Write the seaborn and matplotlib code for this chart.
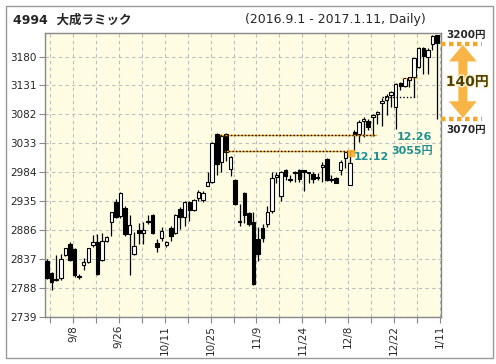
import matplotlib
matplotlib.use("Agg")
import matplotlib.pyplot as plt
import matplotlib.patheffects as pe
from matplotlib.patches import FancyArrowPatch, Rectangle
import numpy as np
import pandas as pd
import seaborn as sns

# trading days 2016-09-01 .. 2017-01-11 (TSE holidays removed)
holidays = ["2016-09-19", "2016-09-22", "2016-10-10", "2016-11-03", "2016-11-23",
            "2016-12-23", "2017-01-02", "2017-01-03", "2017-01-09"]
dates = [d for d in pd.bdate_range("2016-09-01", "2017-01-11")
         if d.strftime("%Y-%m-%d") not in holidays]

opens = [2834, 2813, 2802, 2804, 2844, 2863, 2854, 2808, 2827, 2832,
         2861, 2865, 2835, 2868, 2899, 2934, 2909, 2924, 2880, 2845,
         2886, 2881, 2902, 2912, 2864, 2873, 2861, 2890, 2881, 2921,
         2908, 2934, 2920, 2941, 2937, 2961, 2967, 3049, 3001, 3049,
         2990, 2971, 2902, 2948, 2915, 2900, 2871, 2889, 2896, 2918,
         2976, 2944, 2987, 2972, 2982, 2988, 2987, 2984, 2981, 2975,
         2992, 3006, 2972, 2974, 2988, 3008, 2963, 3053, 3049, 3071,
         3071, 3077, 3082, 3102, 3106, 3115, 3095, 3135, 3130, 3140,
         3145, 3163, 3194, 3179, 3201, 3216]
highs = [2836, 2815, 2843, 2845, 2856, 2865, 2855, 2812, 2839, 2856,
         2878, 2880, 2881, 2876, 2917, 2938, 2950, 2926, 2912, 2882,
         2898, 2900, 2912, 2913, 2871, 2891, 2868, 2892, 2913, 2925,
         2936, 2936, 2938, 2954, 2952, 2984, 3035, 3050, 3047, 3050,
         3011, 2972, 2930, 2950, 2917, 2916, 2891, 2897, 2926, 2985,
         2984, 2986, 2989, 2980, 2986, 2990, 2988, 2985, 2984, 2982,
         3002, 3008, 2980, 2976, 3005, 3020, 3020, 3055, 3072, 3077,
         3074, 3083, 3088, 3110, 3116, 3122, 3136, 3137, 3144, 3146,
         3178, 3196, 3196, 3194, 3216, 3217]
lows = [2803, 2784, 2800, 2802, 2842, 2834, 2806, 2803, 2818, 2830,
        2858, 2810, 2834, 2866, 2875, 2906, 2907, 2876, 2809, 2844,
        2862, 2862, 2897, 2880, 2848, 2868, 2858, 2868, 2880, 2888,
        2893, 2901, 2919, 2935, 2934, 2960, 2966, 2980, 2984, 3003,
        2978, 2929, 2893, 2898, 2893, 2792, 2834, 2866, 2891, 2915,
        2965, 2935, 2970, 2967, 2968, 2968, 2952, 2966, 2966, 2970,
        2968, 2969, 2968, 2966, 2980, 2991, 2962, 3017, 3036, 3044,
        3056, 3045, 3066, 3062, 3081, 3095, 3057, 3123, 3128, 3129,
        3112, 3160, 3151, 3150, 3191, 3075]
closes = [2805, 2797, 2801, 2837, 2855, 2835, 2810, 2806, 2832, 2855,
          2865, 2811, 2868, 2874, 2916, 2908, 2949, 2880, 2895, 2859,
          2881, 2886, 2899, 2881, 2857, 2885, 2865, 2876, 2912, 2908,
          2934, 2920, 2937, 2951, 2948, 2967, 3034, 2998, 3045, 3018,
          3009, 2930, 2900, 2911, 2897, 2794, 2845, 2873, 2916, 2974,
          2980, 2985, 2977, 2971, 2985, 2973, 2985, 2982, 2973, 2974,
          2996, 2970, 2971, 2966, 3002, 3019, 3000, 3049, 3069, 3075,
          3060, 3081, 3086, 3105, 3114, 3120, 3134, 3130, 3143, 3145,
          3177, 3194, 3181, 3192, 3215, 3203]

yticks = [2739, 2788, 2837, 2886, 2935, 2984, 3033, 3082, 3131, 3180]
upper_line = 3046.5   # dotted resistance lines
lower_line = 3020
range_top = 3202
range_bottom = 3074

df = pd.DataFrame({"date": dates, "open": opens, "high": highs,
                   "low": lows, "close": closes})
df["i"] = np.arange(len(df))
df["up"] = df["close"] >= df["open"]
df["bottom"] = df[["open", "close"]].min(axis=1)
df["height"] = (df["close"] - df["open"]).abs().clip(lower=1.5)

sns.set_style("white")
plt.rcParams["font.family"] = ["DejaVu Sans", "Noto Sans CJK JP"]

W, H = 496, 364
fig = plt.figure(figsize=(W / 100, H / 100), dpi=100)
L, R, T, B = 45, 440.7, 33.3, 316.7
ax = fig.add_axes([L / W, 1 - B / H, (R - L) / W, (B - T) / H])
ax.set_facecolor("#fefde4")

# wicks and bodies
ax.vlines(df["i"], df["low"], df["high"], color="black", lw=0.9, zorder=3)
ax.bar(df["i"], df["height"], bottom=df["bottom"], width=0.75,
       color=np.where(df["up"], "white", "black"), edgecolor="black",
       linewidth=0.8, zorder=4)

ax.set_xlim(-0.44, 85.8)
ax.set_ylim(2739, 3219.5)

# grid every 5 trading days, labels every 10
xt = [0.65 + 5 * k for k in range(18)]
ax.set_xticks(xt)
ax.set_xticklabels(["" if k % 2 == 0 else
                    f"{dates[5 * k].month}/{dates[5 * k].day}" for k in range(18)],
                   rotation=90)
ax.set_yticks(yticks)
ax.grid(True, color="#bdbdbd", ls=(0, (3, 3)), lw=0.8, zorder=0)
ax.tick_params(axis="both", labelsize=7.5, length=4, width=0.8, color="#888888",
               pad=2, direction="out", bottom=True, left=True)
for s in ax.spines.values():
    s.set_color("#888888")
    s.set_linewidth(1)

# dotted support / resistance lines
for y, x0, x1 in [(upper_line, 37.7, 71.7), (lower_line, 38.8, 66.5)]:
    ax.plot([x0, x1], [y, y], color="#f0a000", lw=1, zorder=5)
    ax.plot([x0, x1], [y, y], color="black", lw=1, ls=(0, (1, 1.5)), zorder=5)
ax.plot([73, 80.6], [3112, 3112], color="black", lw=1, ls=(0, (1, 1.5)), zorder=5)
ax.plot([77.4, 81.3], [3144, 3144], color="#f0a000", lw=1, ls=(0, (1, 1.5)), zorder=5)
ax.plot([66.3], [3016], marker="s", ms=4.5, color="#f5b030", alpha=0.85, zorder=6)

teal = "#1f8f91"
ax.text(66.8, 3009, "12.12", color=teal, fontsize=8, fontweight="bold",
        ha="left", va="center", zorder=7)
ax.text(76.1, 3044.5, "12.26", color=teal, fontsize=8, fontweight="bold",
        ha="left", va="center", zorder=7)
ax.text(75.0, 3020, "3055円", color=teal, fontsize=8, fontweight="bold",
        ha="left", va="center", zorder=7)

# range marker on the right, outside the plot
tr = ax.get_yaxis_transform()
orange = "#f5a623"
for y in [range_top, range_bottom]:
    ax.plot([1.0, 1.104], [y, y], transform=tr, color=orange, lw=3.2,
            ls=(0, (1, 0.8)), clip_on=False, zorder=6)
mid = (range_top + range_bottom) / 2
for end in [range_top - 2, range_bottom + 2]:
    ax.add_patch(FancyArrowPatch(
        (1.056, mid), (1.056, end), transform=tr,
        arrowstyle="simple,head_length=12,head_width=20,tail_width=6.5",
        mutation_scale=1, lw=0, color="#f8b545", clip_on=False, zorder=5,
        shrinkA=0, shrinkB=0))
ax.text(1.013, 3216.6, "3200円", transform=tr, fontsize=7.5, fontweight="bold",
        ha="left", va="center", clip_on=False)
ax.text(1.013, 3055.6, "3070円", transform=tr, fontsize=7.5, fontweight="bold",
        ha="left", va="center", clip_on=False)
ax.text(1.013, 3137, "140円", transform=tr, fontsize=10, fontweight="bold",
        color="#4a4000", ha="left", va="center", clip_on=False, zorder=7,
        path_effects=[pe.withStroke(linewidth=2, foreground="#fff4dc")])

# titles
fig.text(13 / W, 1 - 20 / H, "4994  大成ラミック", fontsize=9, fontweight="bold",
         ha="left", va="center")
fig.text(245 / W, 1 - 20 / H, "(2016.9.1 - 2017.1.11, Daily)", fontsize=9,
         ha="left", va="center")

fig.patches.append(Rectangle((5.5 / W, 1 - 358.3 / H), 487 / W, 352.8 / H,
                             transform=fig.transFigure, fill=False,
                             edgecolor="#999999", lw=1))

fig.savefig("out.png", dpi=100)
